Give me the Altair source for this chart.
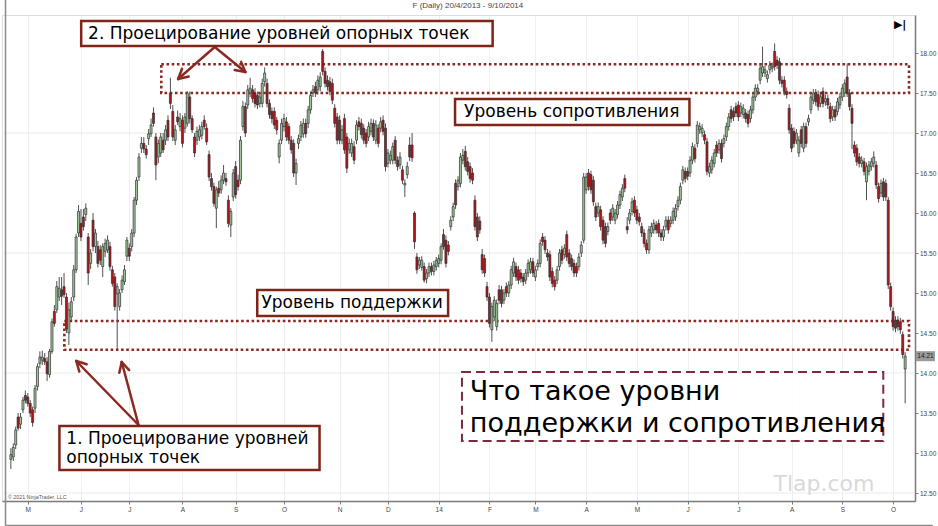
import math
import altair as alt
import pandas as pd

# ---------------- data ----------------
OPEN = [
 12.92,12.95,13.10,13.45,13.36,13.54,13.72,13.70,13.62,13.54,13.56,13.83,14.12,14.16,14.18,14.14,13.98,14.27,14.77,14.79,
 14.95,15.04,15.08,14.95,14.50,14.70,14.95,15.29,15.75,15.87,15.95,15.98,15.70,15.37,15.91,15.58,15.58,15.54,15.33,15.52,
 15.54,15.58,15.29,15.20,14.99,14.83,15.04,15.14,15.46,15.56,15.58,15.75,16.16,16.45,16.81,16.87,16.80,16.93,16.99,17.25,
 16.95,16.70,16.75,16.91,16.91,17.16,17.50,17.27,16.91,17.20,17.08,17.16,17.06,17.12,17.45,17.18,16.95,16.91,16.95,16.97,
 17.16,17.06,16.73,16.43,16.33,16.06,16.31,16.29,16.41,16.43,16.16,15.85,16.20,16.58,16.41,16.41,17.08,17.33,17.35,17.50,
 17.54,17.50,17.47,17.37,17.37,17.64,17.62,17.37,17.27,17.27,17.16,16.70,16.91,17.08,17.14,17.08,16.91,16.87,16.50,16.87,
 16.95,16.99,17.12,17.12,17.29,17.50,17.58,17.54,17.58,18.02,17.77,17.66,17.64,17.62,17.31,17.20,17.16,16.91,17.18,16.95,
 16.79,16.75,16.83,16.91,17.14,17.12,17.06,17.00,16.95,17.02,17.12,16.91,17.06,17.06,17.16,17.06,16.62,16.66,16.66,16.91,
 16.66,16.60,16.54,16.35,16.48,16.85,16.85,16.00,15.45,15.35,15.32,15.33,15.18,15.25,15.33,15.27,15.33,15.37,15.41,15.73,
 15.66,15.60,15.83,15.95,16.37,16.33,16.37,16.66,16.77,16.64,16.58,16.50,16.16,15.95,15.90,15.48,15.43,15.08,14.95,14.54,
 14.70,14.58,15.04,15.04,14.91,15.08,15.00,15.10,15.25,15.33,15.29,15.25,15.20,15.16,15.25,15.29,15.39,15.20,15.33,15.37,
 15.70,15.66,15.50,15.48,15.27,15.16,15.16,15.33,15.54,15.48,15.73,15.50,15.43,15.37,15.33,15.33,15.50,15.66,16.29,16.50,
 16.48,16.41,16.08,16.00,16.04,15.91,15.83,15.77,16.00,15.95,15.91,15.98,16.10,16.20,16.43,15.83,15.91,16.02,16.16,16.04,
 15.95,15.83,15.75,15.62,15.54,15.75,15.79,15.85,15.87,15.75,15.70,15.83,15.91,15.87,15.91,15.95,16.08,16.16,16.41,16.52,
 16.52,16.50,16.66,16.81,16.87,17.04,17.00,16.98,16.89,16.50,16.54,16.62,16.85,16.79,16.87,16.87,16.95,17.08,17.29,17.27,
 17.33,17.35,17.25,17.23,17.25,17.23,17.18,17.29,17.45,17.52,17.66,17.75,17.75,17.68,17.79,17.81,18.02,17.91,17.89,17.66,
 17.66,17.52,17.31,17.06,17.02,16.91,16.75,17.04,16.81,17.08,17.14,17.29,17.41,17.50,17.48,17.37,17.52,17.39,17.43,17.33,
 17.20,17.29,17.27,17.35,17.45,17.50,17.70,17.50,17.31,16.85,16.81,16.70,16.62,16.64,16.39,16.52,16.58,16.62,16.60,16.33,
 16.25,16.39,16.37,16.16,15.08,14.77,14.66,14.66,14.64,14.48,14.05,
]
HIGH = [
 13.06,13.12,13.33,13.50,13.50,13.70,13.78,13.75,13.66,13.58,13.85,14.12,14.27,14.28,14.25,14.20,14.30,14.68,14.85,15.15,
 15.20,15.20,15.25,15.00,14.88,14.95,15.35,15.74,16.10,16.05,16.05,16.12,15.75,15.55,16.00,15.80,15.65,15.60,15.62,15.68,
 15.72,15.64,15.34,15.25,15.12,15.05,15.22,15.35,15.70,15.62,15.80,16.20,16.45,16.75,16.95,16.95,16.85,17.05,17.18,17.32,
 17.00,16.92,17.00,17.00,17.10,17.22,17.69,17.35,17.10,17.28,17.25,17.22,17.25,17.52,17.52,17.22,17.00,17.08,17.10,17.14,
 17.22,17.12,16.78,16.50,16.38,16.33,16.40,16.47,16.60,16.50,16.22,16.06,16.55,16.65,16.48,16.96,17.40,17.38,17.60,17.69,
 17.60,17.56,17.52,17.50,17.68,17.82,17.68,17.42,17.32,17.32,17.20,16.92,17.18,17.24,17.20,17.12,16.96,16.92,16.68,16.98,
 17.15,17.18,17.18,17.34,17.52,17.60,17.64,17.72,17.76,18.05,17.82,17.72,17.70,17.68,17.36,17.25,17.22,17.10,17.24,17.00,
 16.93,16.93,16.90,17.16,17.20,17.18,17.11,17.05,17.14,17.18,17.17,17.16,17.11,17.20,17.22,17.12,16.80,16.78,16.88,16.96,
 16.71,16.76,16.59,16.42,16.64,16.95,17.00,16.02,15.50,15.45,15.46,15.38,15.30,15.38,15.38,15.40,15.45,15.48,15.62,15.80,
 15.72,15.65,15.96,16.13,16.42,16.46,16.75,16.80,16.84,16.70,16.63,16.56,16.22,16.00,15.96,15.55,15.48,15.14,15.00,14.88,
 14.96,14.92,15.10,15.09,15.05,15.13,15.15,15.34,15.44,15.38,15.34,15.30,15.25,15.30,15.42,15.44,15.44,15.34,15.42,15.67,
 15.75,15.71,15.55,15.53,15.32,15.21,15.34,15.55,15.59,15.61,15.78,15.55,15.48,15.42,15.38,15.50,15.65,16.50,16.50,16.55,
 16.53,16.46,16.13,16.13,16.09,15.96,15.88,15.88,16.05,16.11,16.05,16.15,16.28,16.36,16.48,15.95,16.05,16.19,16.21,16.09,
 16.00,15.88,15.80,15.67,15.84,15.88,15.92,15.90,15.92,15.80,15.84,15.96,15.96,15.96,16.07,16.11,16.21,16.38,16.59,16.57,
 16.57,16.71,16.88,16.86,17.15,17.13,17.11,17.03,16.94,16.63,16.71,16.80,16.90,16.92,16.92,16.98,17.13,17.25,17.34,17.32,
 17.38,17.40,17.38,17.36,17.30,17.28,17.34,17.50,17.61,17.61,17.86,18.08,17.84,17.78,17.90,17.88,18.12,17.96,17.94,17.71,
 17.71,17.57,17.36,17.11,17.07,17.05,16.96,17.09,17.13,17.13,17.23,17.50,17.55,17.55,17.53,17.50,17.57,17.48,17.48,17.38,
 17.34,17.34,17.44,17.50,17.61,17.67,17.87,17.55,17.36,16.90,16.86,16.75,16.71,16.69,16.63,16.65,16.69,16.77,16.65,16.38,
 16.42,16.44,16.42,16.20,15.13,14.82,14.71,14.71,14.69,14.52,14.26,
]
LOW = [
 12.80,12.90,13.05,13.28,13.30,13.50,13.62,13.58,13.45,13.33,13.50,13.78,14.06,14.10,14.10,13.90,13.94,14.24,14.58,14.75,
 14.90,14.85,14.94,14.50,14.35,14.65,14.90,15.25,15.70,15.65,15.78,15.90,15.10,15.30,15.52,15.50,15.32,15.35,15.20,15.45,
 15.50,15.28,15.08,14.78,14.29,14.78,15.00,15.10,15.40,15.40,15.52,15.70,16.10,16.40,16.75,16.75,16.68,16.85,16.95,17.08,
 16.41,16.62,16.70,16.75,16.85,16.90,17.30,16.90,16.85,17.10,17.02,16.82,17.00,17.08,17.12,17.00,16.70,16.85,16.90,16.92,
 17.04,16.85,16.40,16.28,16.08,15.81,16.20,16.24,16.36,16.34,15.82,15.70,16.15,16.18,16.28,16.36,17.03,16.95,17.30,17.45,
 17.38,17.32,17.30,17.32,17.32,17.58,17.32,17.18,17.12,17.05,16.98,16.62,16.86,17.02,16.90,16.86,16.74,16.45,16.35,16.80,
 16.90,16.94,16.94,17.06,17.24,17.45,17.45,17.48,17.52,17.72,17.57,17.53,17.47,17.36,17.07,16.86,16.86,16.86,16.74,16.50,
 16.74,16.70,16.61,16.86,17.03,16.93,16.86,16.82,16.90,16.97,16.90,16.86,16.82,17.01,16.97,16.52,16.57,16.61,16.61,16.61,
 16.53,16.55,16.36,16.20,16.43,16.65,16.64,15.55,15.24,15.30,15.28,15.13,15.12,15.20,15.22,15.22,15.28,15.32,15.36,15.54,
 15.32,15.47,15.78,15.90,16.05,16.28,16.32,16.61,16.53,16.47,16.38,16.36,15.78,15.65,15.74,15.24,15.20,14.90,14.57,14.39,
 14.65,14.53,14.86,14.82,14.86,14.95,14.95,15.05,15.20,15.15,15.11,15.13,15.09,15.11,15.20,15.24,15.20,15.15,15.28,15.32,
 15.59,15.49,15.40,15.15,15.07,15.03,15.11,15.28,15.36,15.43,15.40,15.32,15.28,15.20,15.20,15.28,15.45,15.62,16.24,16.28,
 16.24,16.09,15.90,15.95,15.78,15.61,15.57,15.72,15.86,15.90,15.86,15.93,16.05,16.15,16.26,15.74,15.86,15.97,15.95,15.86,
 15.84,15.70,15.57,15.49,15.49,15.70,15.74,15.74,15.70,15.65,15.65,15.78,15.74,15.82,15.86,15.90,16.03,16.11,16.36,16.38,
 16.41,16.45,16.61,16.63,16.82,16.99,16.95,16.86,16.47,16.45,16.49,16.57,16.70,16.74,16.63,16.82,16.90,17.03,17.13,17.15,
 17.20,17.15,17.20,17.18,17.13,17.07,17.13,17.24,17.40,17.47,17.61,17.70,17.70,17.63,17.74,17.76,17.78,17.80,17.61,17.57,
 17.47,17.43,16.99,16.76,16.82,16.86,16.70,16.82,16.76,16.82,17.09,17.24,17.36,17.34,17.28,17.32,17.32,17.34,17.30,17.13,
 17.15,17.15,17.22,17.30,17.40,17.45,17.45,17.28,16.80,16.70,16.59,16.57,16.57,16.47,16.16,16.47,16.53,16.57,16.30,16.13,
 16.20,16.15,16.15,15.05,14.78,14.53,14.51,14.53,14.49,14.18,13.62,
]
CLOSE = [
 12.98,13.07,13.29,13.31,13.45,13.66,13.66,13.62,13.50,13.38,13.81,14.08,14.20,14.20,14.14,13.99,14.27,14.64,14.62,15.08,
 15.06,14.96,14.98,14.55,14.79,14.89,15.29,15.70,16.02,15.70,15.83,16.06,15.25,15.50,15.58,15.75,15.37,15.41,15.58,15.62,
 15.66,15.33,15.12,14.83,15.08,15.00,15.16,15.29,15.66,15.46,15.75,16.16,16.41,16.70,16.87,16.80,16.73,16.99,17.10,17.12,
 16.60,16.87,16.95,16.79,17.04,16.95,17.37,16.95,17.04,17.14,17.18,16.87,17.20,17.50,17.18,17.04,16.75,17.02,17.04,17.08,
 17.08,16.89,16.45,16.33,16.12,16.29,16.25,16.41,16.50,16.39,15.87,16.02,16.50,16.23,16.33,16.91,17.33,17.00,17.54,17.56,
 17.43,17.37,17.35,17.45,17.62,17.75,17.37,17.23,17.18,17.10,17.04,16.87,17.12,17.18,16.95,16.91,16.79,16.50,16.62,16.93,
 17.10,17.12,16.99,17.29,17.47,17.54,17.50,17.66,17.70,17.77,17.62,17.58,17.52,17.41,17.12,16.91,16.91,17.04,16.79,16.56,
 16.87,16.87,16.66,17.10,17.08,16.98,16.91,16.87,17.08,17.12,16.95,17.10,16.87,17.14,17.02,16.58,16.75,16.72,16.83,16.66,
 16.58,16.70,16.41,16.37,16.58,16.70,16.69,15.64,15.29,15.41,15.41,15.16,15.25,15.33,15.27,15.35,15.41,15.43,15.58,15.58,
 15.37,15.52,15.91,16.08,16.10,16.41,16.70,16.72,16.58,16.52,16.43,16.41,15.83,15.70,15.79,15.29,15.25,14.95,14.62,14.83,
 14.91,14.87,14.91,14.87,15.00,15.00,15.10,15.29,15.39,15.20,15.16,15.18,15.14,15.25,15.37,15.39,15.25,15.29,15.37,15.62,
 15.64,15.54,15.45,15.20,15.12,15.08,15.29,15.50,15.41,15.56,15.45,15.37,15.33,15.25,15.25,15.45,15.60,16.45,16.45,16.33,
 16.29,16.14,15.95,16.08,15.83,15.66,15.62,15.83,15.91,16.06,16.00,16.10,16.23,16.31,16.31,15.79,16.00,16.14,16.00,15.91,
 15.89,15.75,15.62,15.54,15.79,15.83,15.87,15.79,15.75,15.70,15.79,15.91,15.79,15.91,16.02,16.06,16.16,16.33,16.54,16.43,
 16.46,16.66,16.83,16.68,17.10,17.08,17.06,16.91,16.52,16.58,16.66,16.75,16.75,16.87,16.68,16.93,17.08,17.20,17.18,17.20,
 17.25,17.20,17.33,17.31,17.18,17.12,17.29,17.45,17.56,17.56,17.81,17.83,17.79,17.73,17.85,17.83,17.83,17.85,17.66,17.62,
 17.52,17.48,17.04,16.81,16.87,17.00,16.91,16.87,17.08,16.87,17.18,17.45,17.50,17.39,17.33,17.45,17.37,17.43,17.35,17.18,
 17.29,17.20,17.39,17.45,17.56,17.62,17.50,17.33,17.12,16.75,16.64,16.62,16.66,16.52,16.58,16.60,16.64,16.70,16.35,16.18,
 16.37,16.20,16.20,15.10,14.83,14.58,14.56,14.58,14.54,14.23,14.21,
]

MONTH_START = [7, 29, 49, 71, 93, 113, 136, 156, 177, 198, 217, 238, 259, 280, 301, 323, 344, 365]
MONTH_LABELS = ["M", "J", "J", "A", "S", "O", "N", "D", "14", "F", "M", "A", "M", "J", "J", "A", "S", "O"]
PRICE_TICKS = [12.5, 13.0, 13.5, 14.0, 14.5, 15.0, 15.5, 16.0, 16.5, 17.0, 17.5, 18.0]
GRID_PRICES = [12.5, 14.0, 15.5, 17.0]
RESISTANCE_ZONE = [17.50, 17.86]
SUPPORT_ZONE = [14.29, 14.65]
LAST_PRICE = 14.21
TITLE = "F (Daily)  20/4/2013 - 9/10/2014"

# ---------------- layout ----------------
W, H = 913, 486
OX, OY = 2, 15
XDOM = [-1.6, 372.0]
YDOM = [12.40, 18.475]
DARK_RED = "#7e2418"
FONT = "DejaVu Sans"
AXFONT = "Liberation Sans"


def DX(px):
    """page pixel x -> bar index"""
    return XDOM[0] + (px - OX) / W * (XDOM[1] - XDOM[0])


def DY(py):
    """page pixel y -> price"""
    return YDOM[1] - (py - OY) / H * (YDOM[1] - YDOM[0])


n = len(CLOSE)
df = pd.DataFrame({"i": list(range(n)), "o": OPEN, "h": HIGH, "l": LOW, "c": CLOSE})
df["lo"] = df[["o", "c"]].min(axis=1)
df["hi"] = df[["o", "c"]].max(axis=1)
df["dir"] = ["up" if c >= o else "down" for o, c in zip(OPEN, CLOSE)]

xs = alt.Scale(domain=XDOM, nice=False, zero=False)
ys = alt.Scale(domain=YDOM, nice=False, zero=False)

label_expr = ("[" + ",".join("'%s'" % s for s in MONTH_LABELS) + "][indexof(["
              + ",".join(str(v) for v in MONTH_START) + "], datum.value)]")

x_axis = alt.Axis(values=MONTH_START, labelExpr=label_expr, grid=True, gridColor="#efefef",
                  domainColor="#7a7a7a", domainWidth=1.5, tickColor="#7a7a7a", tickSize=3,
                  labelFontSize=6.5, labelFont=AXFONT, labelColor="#444", labelPadding=2,
                  title=None, labelFlush=False)
y_axis = alt.Axis(orient="right", values=PRICE_TICKS, format=".2f", grid=False,
                  domainColor="#7a7a7a", domainWidth=1.5, tickColor="#7a7a7a", tickSize=3,
                  labelFontSize=6.5, labelFont=AXFONT, labelColor="#444", labelPadding=1.5, title=None)


def XE(f):
    return alt.X(f, scale=xs, axis=x_axis)


def YE(f):
    return alt.Y(f, scale=ys, axis=y_axis)


grid = alt.Chart(pd.DataFrame({"p": GRID_PRICES})).mark_rule(color="#ebebeb", strokeWidth=1).encode(
    y=YE("p:Q"))

wicks = alt.Chart(df).mark_rule(color="#505050", strokeWidth=1).encode(
    x=XE("i:Q"), y=YE("l:Q"), y2="h:Q")

bodies = alt.Chart(df).mark_bar(size=2, stroke="#2e2e2e", strokeWidth=0.7, orient="vertical").encode(
    x=XE("i:Q"), y=YE("lo:Q"), y2="hi:Q",
    fill=alt.Fill("dir:N", scale=alt.Scale(domain=["up", "down"], range=["#9fcd9b", "#b3151d"]), legend=None))

# level zones (dotted rectangles), in data coordinates
zones = pd.DataFrame({
    "x1": [DX(158), DX(60)], "x2": [DX(914), DX(914)],
    "y1": [RESISTANCE_ZONE[0], SUPPORT_ZONE[0]], "y2": [RESISTANCE_ZONE[1], SUPPORT_ZONE[1]],
})
zone_layer = alt.Chart(zones).mark_rect(fillOpacity=0, stroke="#8a2a22", strokeWidth=2.6,
                                        strokeDash=[2.6, 2.6]).encode(
    x=XE("x1:Q"), x2="x2:Q", y=YE("y1:Q"), y2="y2:Q")

# ---------------- annotations ----------------
boxes_page = [(77, 21, 493, 46), (455, 99, 692, 125), (255, 290, 448, 316), (55, 426, 318, 470)]
bx = pd.DataFrame([{"x": DX(a), "y": DY(b), "x2": DX(c), "y2": DY(d)} for a, b, c, d in boxes_page])
box_layer = alt.Chart(bx).mark_rect(fill="white", stroke=DARK_RED, strokeWidth=2.5).encode(
    x=XE("x:Q"), x2="x2:Q", y=YE("y:Q"), y2="y2:Q")

dbx = pd.DataFrame([{"x": DX(462), "y": DY(372), "x2": DX(888), "y2": DY(441)}])
dash_box = alt.Chart(dbx).mark_rect(fill="white", fillOpacity=0.85, stroke="#7e2a3c", strokeWidth=2,
                                    strokeDash=[9, 5]).encode(
    x=XE("x:Q"), x2="x2:Q", y=YE("y:Q"), y2="y2:Q")

segs = []
for (x0, y0, x1, y1) in [(212, 47, 175, 79), (212, 47, 243, 72), (135, 425, 72, 361), (135, 425, 118, 362)]:
    segs.append({"x": DX(x0), "y": DY(y0), "x2": DX(x1), "y2": DY(y1)})
    d = math.hypot(x1 - x0, y1 - y0)
    vx, vy = -(x1 - x0) / d, -(y1 - y0) / d
    for s in (1, -1):
        t = math.radians(28) * s
        rx = vx * math.cos(t) - vy * math.sin(t)
        ry = vx * math.sin(t) + vy * math.cos(t)
        segs.append({"x": DX(x1), "y": DY(y1), "x2": DX(x1 + 11 * rx), "y2": DY(y1 + 11 * ry)})
arrow_layer = alt.Chart(pd.DataFrame(segs)).mark_rule(color="#8a2a22", strokeWidth=2.5, strokeCap="round").encode(
    x=XE("x:Q"), x2="x2:Q", y=YE("y:Q"), y2="y2:Q")

frame = pd.DataFrame([
    {"x": DX(0.5), "y": DY(0), "x2": DX(0.5), "y2": DY(526)},
    {"x": DX(0), "y": DY(525.5), "x2": DX(938), "y2": DY(525.5)},
])
frame_layer = alt.Chart(frame).mark_rule(color="#8a8a8a", strokeWidth=1.5).encode(
    x=XE("x:Q"), x2="x2:Q", y=YE("y:Q"), y2="y2:Q")


def text_layer(rows, align, font=FONT, color="black", weight="normal"):
    d = pd.DataFrame([{"x": DX(x), "y": DY(y), "t": t, "s": s} for x, y, t, s in rows])
    return alt.Chart(d).mark_text(align=align, baseline="middle", font=font, color=color,
                                  fontWeight=weight).encode(
        x=XE("x:Q"), y=YE("y:Q"),
        text="t:N", size=alt.Size("s:Q", scale=None, legend=None))


left_texts = text_layer([
    (84, 34, "2. Проецирование уровней опорных точек", 17),
    (62, 438.5, "1. Проецирование уровней", 17),
    (62, 457.5, "опорных точек", 17),
    (470, 392, "Что такое уровни", 27),
    (470, 424, "поддержки и сопротивления", 27),
], "left")
center_texts = text_layer([
    (573, 112, "Уровень сопротивления", 17),
    (351, 303, "Уровень поддержки", 17),
], "center")
title_layer = text_layer([(468, 6, TITLE, 8)], "center", font=AXFONT, color="#444")
water = text_layer([(828, 484, "Tlap.com", 22)], "center", color="#d9d9d9")
copy_layer = text_layer([(3, 497, "© 2021 NinjaTrader, LLC", 5.3)], "left", font=AXFONT, color="#555")
icon = text_layer([(905, 25, "▶|", 11)], "center", color="black", weight="bold")

lp = pd.DataFrame({"p": [LAST_PRICE], "t": ["%.2f" % LAST_PRICE]})
lp_box = alt.Chart(lp).mark_rect(fill="#9a9a9a", yOffset=-5, y2Offset=5).encode(
    x=alt.value(916 - OX), x2=alt.value(935 - OX),
    y=YE("p:Q"), y2="p:Q")
lp_text = alt.Chart(lp).mark_text(font=AXFONT, fontSize=6.5, color="#1a1a1a", align="center",
                                  baseline="middle").encode(
    x=alt.value(925.5 - OX), y=YE("p:Q"), text="t:N")

chart = alt.layer(
    grid, zone_layer, wicks, bodies, arrow_layer, box_layer, dash_box,
    left_texts, center_texts, title_layer, water, copy_layer, icon, lp_box, lp_text, frame_layer,
).properties(
    width=W, height=H,
    autosize=alt.AutoSizeParams(type="none"),
    padding={"left": OX, "top": OY, "right": 938 - OX - W, "bottom": 526 - OY - H},
).configure_view(stroke=None).configure(background="white")

chart.save("out.html", embed_options={"renderer": "svg", "actions": False})
